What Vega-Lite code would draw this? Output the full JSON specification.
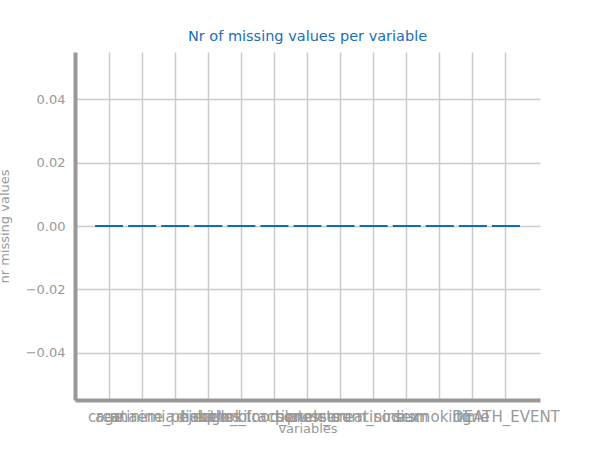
{
  "$schema": "https://vega.github.io/schema/vega-lite/v6.json",
  "width": 465,
  "height": 348,
  "autosize": {"type": "none"},
  "padding": {"left": 75, "top": 52, "right": 60, "bottom": 50},
  "background": "white",
  "config": {"font": "DejaVu Sans", "view": {"stroke": null}},
  "title": {"text": "Nr of missing values per variable", "color": "#1a6fb3", "fontSize": 14.5, "fontWeight": "normal", "offset": 8},
  "data": {"values": [
    {"variable": "age", "missing": 0},
    {"variable": "anaemia", "missing": 0},
    {"variable": "creatinine_phosphokinase", "missing": 0},
    {"variable": "diabetes", "missing": 0},
    {"variable": "ejection_fraction", "missing": 0},
    {"variable": "high_blood_pressure", "missing": 0},
    {"variable": "platelets", "missing": 0},
    {"variable": "serum_creatinine", "missing": 0},
    {"variable": "serum_sodium", "missing": 0},
    {"variable": "sex", "missing": 0},
    {"variable": "smoking", "missing": 0},
    {"variable": "time", "missing": 0},
    {"variable": "DEATH_EVENT", "missing": 0}
  ]},
  "mark": {"type": "tick", "orient": "horizontal", "size": 28, "thickness": 2, "color": "#0f6cb5", "opacity": 1},
  "encoding": {
    "x": {
      "field": "variable", "type": "nominal", "sort": null,
      "scale": {"paddingInner": 0, "paddingOuter": 0.53},
      "axis": {"title": "variables", "titleColor": "#999999", "titleFontWeight": "normal", "titleFontSize": 13, "titlePadding": -2,
        "labelAngle": 0, "labelOverlap": false, "labelColor": "#999999", "labelFontSize": 15, "labelPadding": 9,
        "bandPosition": 0.5, "grid": true, "gridColor": "#cccccc", "gridWidth": 1.5,
        "ticks": false, "domainColor": "#999999", "domainWidth": 4}
    },
    "y": {
      "field": "missing", "type": "quantitative",
      "scale": {"domain": [-0.055, 0.055], "nice": false, "zero": false},
      "axis": {"title": "nr missing values", "titleColor": "#999999", "titleFontWeight": "normal", "titleFontSize": 13, "titlePadding": 14,
        "values": [-0.04, -0.02, 0, 0.02, 0.04], "format": ".2f",
        "labelColor": "#999999", "labelFontSize": 13, "labelPadding": 10,
        "grid": true, "gridColor": "#cccccc", "gridWidth": 1.5,
        "ticks": false, "domainColor": "#999999", "domainWidth": 4}
    }
  }
}
